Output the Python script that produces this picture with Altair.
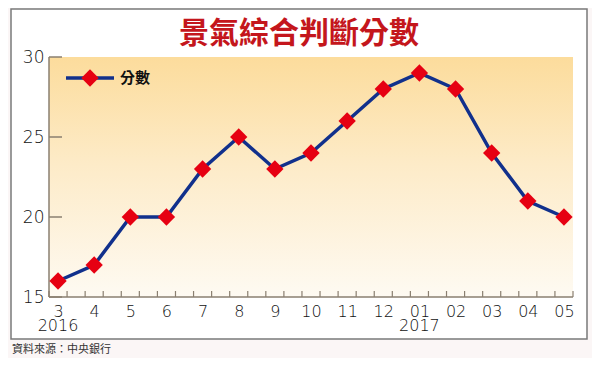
import altair as alt
import pandas as pd

# ---- data ----
months = ["3", "4", "5", "6", "7", "8", "9", "10", "11", "12", "01", "02", "03", "04", "05"]
years = ["2016", "", "", "", "", "", "", "", "", "", "2017", "", "", "", ""]
scores = [16, 17, 20, 20, 23, 25, 23, 24, 26, 28, 29, 28, 24, 21, 20]
y_ticks = [15, 20, 25, 30]
series_name = "分數"
title_text = "景氣綜合判斷分數"
source_text = "資料來源：中央銀行"

W, H = 524, 240
LINE_COLOR = "#11308c"
DOT_COLOR = "#e60012"
AXIS_COLOR = "#8a7f70"
LABEL_FONT = "DejaVu Sans"

df = pd.DataFrame({"idx": list(range(len(months))), "score": scores,
                   "month": months, "year": years})

label_expr = "[" + ",".join("'%s'" % m for m in months) + "][datum.value]"

xscale = alt.Scale(domain=[-0.25, len(months) - 0.75], nice=False, zero=False)
yscale = alt.Scale(domain=[y_ticks[0], y_ticks[-1]], nice=False, zero=False)

x_axis = alt.Axis(values=list(range(len(months))), labelExpr=label_expr,
                  ticks=False, domain=False, grid=False, labelPadding=6,
                  labelFont=LABEL_FONT, labelFontSize=16, labelFontWeight=200,
                  labelColor="#111", labelBaseline="top",
                  labelFlush=False, labelOverlap=False, zindex=2, title=None)
y_axis = alt.Axis(values=y_ticks, ticks=False, domain=False, grid=False,
                  labelPadding=5, labelFont=LABEL_FONT, labelFontSize=17,
                  labelFontWeight=200, labelColor="#111", zindex=2, title=None)

one = alt.Data(values=[{}])

frame = alt.Chart(one).mark_rect(fill="white", stroke="#7a7a7a", strokeWidth=1.5).encode(
    x=alt.value(-38), x2=alt.value(W + 14), y=alt.value(-48), y2=alt.value(H + 42)
)

grad = alt.Chart(one).mark_rect(
    fill=alt.Gradient(
        gradient="linear", x1=0, y1=0, x2=0, y2=1,
        stops=[alt.GradientStop(offset=0, color="#fcdc9c"),
               alt.GradientStop(offset=0.45, color="#fdebc8"),
               alt.GradientStop(offset=1, color="#fefaf2")],
    )
).encode(x=alt.value(0), x2=alt.value(W), y=alt.value(0), y2=alt.value(H))

left_dom = alt.Chart(one).mark_rule(color=AXIS_COLOR, strokeWidth=1.5).encode(
    x=alt.value(0), y=alt.value(0), y2=alt.value(H)
)
bottom_dom = alt.Chart(one).mark_rule(color=AXIS_COLOR, strokeWidth=1.5).encode(
    x=alt.value(0), x2=alt.value(W), y=alt.value(H)
)

xt = pd.DataFrame({"idx": [-0.25 + 0.5 * k for k in range(2 * len(months))]})
xticks = alt.Chart(xt).mark_rule(color=AXIS_COLOR, strokeWidth=1.2).encode(
    x=alt.X("idx:Q", scale=xscale, axis=x_axis), y=alt.value(H - 6), y2=alt.value(H)
)
yt = pd.DataFrame({"score": y_ticks})
yticks = alt.Chart(yt).mark_rule(color=AXIS_COLOR, strokeWidth=1.5).encode(
    y=alt.Y("score:Q", scale=yscale, axis=y_axis), x=alt.value(0), x2=alt.value(13)
)

base = alt.Chart(df).encode(
    x=alt.X("idx:Q", scale=xscale, axis=x_axis),
    y=alt.Y("score:Q", scale=yscale, axis=y_axis),
)
line = base.mark_line(color=LINE_COLOR, strokeWidth=3.5)
pts = base.mark_point(shape="diamond", size=300, filled=True, color=DOT_COLOR, opacity=1)

year_txt = alt.Chart(df).transform_filter("datum.year != ''").mark_text(
    align="center", baseline="top", font=LABEL_FONT, fontSize=16, fontWeight=200, color="#111"
).encode(x=alt.X("idx:Q", scale=xscale, axis=x_axis), y=alt.value(H + 21), text="year:N")

leg = alt.Data(values=[{"name": series_name}])
leg_line = alt.Chart(leg).mark_rule(color=LINE_COLOR, strokeWidth=3.5).encode(
    x=alt.value(17), x2=alt.value(65), y=alt.value(21)
)
leg_pt = alt.Chart(leg).mark_point(shape="diamond", size=300, filled=True, color=DOT_COLOR, opacity=1).encode(
    x=alt.value(41), y=alt.value(21)
)
leg_txt = alt.Chart(leg).mark_text(align="left", baseline="middle", font="Noto Sans CJK TC",
                                   fontWeight="bold", fontSize=15, color="#111").encode(
    x=alt.value(71), y=alt.value(21), text="name:N"
)

ttl = alt.Chart(alt.Data(values=[{"t": title_text}])).mark_text(
    align="center", baseline="middle", font="Noto Sans CJK TC", fontWeight="bold",
    fontSize=30, color="#c4161c"
).encode(x=alt.value(250), y=alt.value(-23), text="t:N")

src = alt.Chart(alt.Data(values=[{"s": source_text}])).mark_text(
    align="left", baseline="middle", font="Noto Sans CJK TC", fontSize=11, color="#333"
).encode(x=alt.value(-37), y=alt.value(H + 53), text="s:N")

chart = alt.layer(
    frame, grad, left_dom, bottom_dom, xticks, yticks, line, pts, year_txt,
    leg_line, leg_pt, leg_txt, ttl, src
).properties(
    width=W, height=H,
    autosize=alt.AutoSizeParams(type="none"),
    padding={"left": 41, "top": 49, "right": 19, "bottom": 61},
    background="#fbf6f6",
).configure_view(stroke=None)

chart.save("out.html", embed_options={"renderer": "svg", "actions": False})
